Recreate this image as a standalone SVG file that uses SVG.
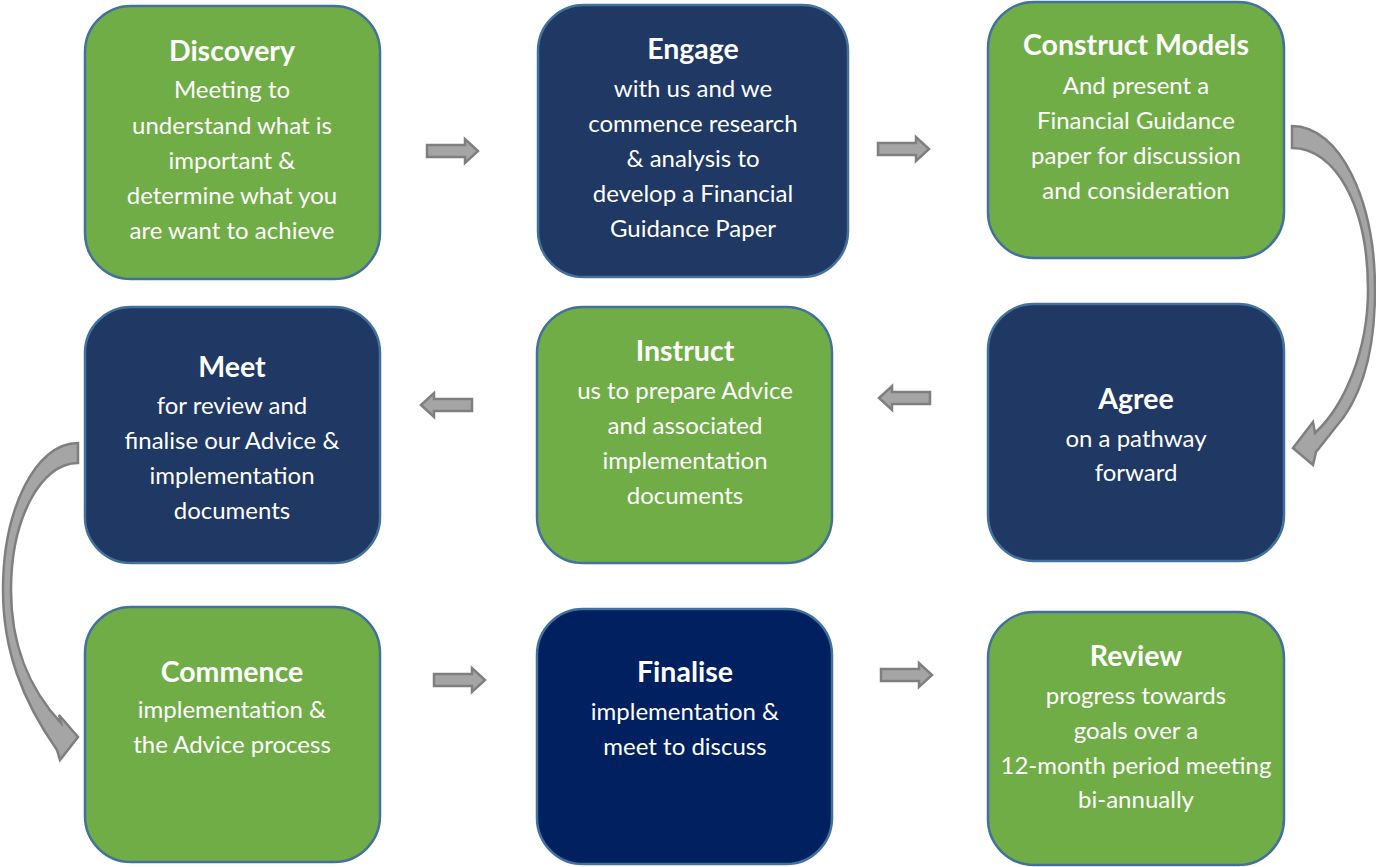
<svg xmlns="http://www.w3.org/2000/svg" width="1376" height="867" viewBox="0 0 1376 867">
<style>
.box{stroke:#41719C;stroke-width:2.5}
.g{fill:#70AD47}
.n{fill:#1F3864}
.d{fill:#002060}
text{font-family:Lato,"Liberation Sans",sans-serif;fill:#fff;text-anchor:middle}
.t{font-size:28.5px;font-weight:bold}
.b{font-size:24px}
.arr{fill:#A5A5A5;stroke:#7F7F7F;stroke-width:2.5;stroke-linejoin:miter}
</style>
<defs>
<path id="ra" d="M0,-6 L38,-6 L38,-12 L51,0 L38,12 L38,6 L0,6 Z"/>
<path id="la" d="M51,-6 L13,-6 L13,-12 L0,0 L13,12 L13,6 L51,6 Z"/>
</defs>
<rect width="1376" height="867" fill="#fff"/>
<g id="discovery">
<rect class="box g" x="85" y="6" width="295" height="273" rx="46"/>
<text class="t" x="232" y="61">Discovery</text>
<text class="b" x="232" y="98">Meeting to</text>
<text class="b" x="232" y="134">understand what is</text>
<text class="b" x="232" y="169">important &amp;</text>
<text class="b" x="232" y="204">determine what you</text>
<text class="b" x="232" y="239">are want to achieve</text>
</g>
<g id="engage">
<rect class="box n" x="538" y="5" width="310" height="272" rx="46"/>
<text class="t" x="693" y="59">Engage</text>
<text class="b" x="693" y="97">with us and we</text>
<text class="b" x="693" y="132">commence research</text>
<text class="b" x="693" y="167">&amp; analysis to</text>
<text class="b" x="693" y="202">develop a Financial</text>
<text class="b" x="693" y="237">Guidance Paper</text>
</g>
<g id="construct">
<rect class="box g" x="988" y="2" width="296" height="256" rx="46"/>
<text class="t" x="1136" y="55">Construct Models</text>
<text class="b" x="1136" y="94">And present a</text>
<text class="b" x="1136" y="129">Financial Guidance</text>
<text class="b" x="1136" y="164">paper for discussion</text>
<text class="b" x="1136" y="199">and consideration</text>
</g>
<g id="meet">
<rect class="box n" x="85" y="307" width="295" height="256" rx="46"/>
<text class="t" x="232" y="377">Meet</text>
<text class="b" x="232" y="414">for review and</text>
<text class="b" x="232" y="449">finalise our Advice &amp;</text>
<text class="b" x="232" y="484">implementation</text>
<text class="b" x="232" y="519">documents</text>
</g>
<g id="instruct">
<rect class="box g" x="537" y="307" width="295" height="256" rx="46"/>
<text class="t" x="685" y="361">Instruct</text>
<text class="b" x="685" y="399">us to prepare Advice</text>
<text class="b" x="685" y="434">and associated</text>
<text class="b" x="685" y="469">implementation</text>
<text class="b" x="685" y="504">documents</text>
</g>
<g id="agree">
<rect class="box n" x="988" y="304" width="296" height="257" rx="46"/>
<text class="t" x="1136" y="409">Agree</text>
<text class="b" x="1136" y="447">on a pathway</text>
<text class="b" x="1136" y="481">forward</text>
</g>
<g id="commence">
<rect class="box g" x="85" y="607" width="295" height="255" rx="46"/>
<text class="t" x="232" y="682">Commence</text>
<text class="b" x="232" y="718">implementation &amp;</text>
<text class="b" x="232" y="753">the Advice process</text>
</g>
<g id="finalise">
<rect class="box d" x="537" y="609" width="295" height="255" rx="46"/>
<text class="t" x="685" y="682">Finalise</text>
<text class="b" x="685" y="720">implementation &amp;</text>
<text class="b" x="685" y="755">meet to discuss</text>
</g>
<g id="review">
<rect class="box g" x="988" y="612" width="296" height="253" rx="46"/>
<text class="t" x="1136" y="666">Review</text>
<text class="b" x="1136" y="704">progress towards</text>
<text class="b" x="1136" y="739">goals over a</text>
<text class="b" x="1136" y="774">12-month period meeting</text>
<text class="b" x="1136" y="808">bi-annually</text>
</g>
<g id="connectors">
<use href="#ra" class="arr" x="427" y="151"/>
<use href="#ra" class="arr" x="878" y="149"/>
<use href="#la" class="arr" x="879" y="398"/>
<use href="#la" class="arr" x="421" y="405"/>
<use href="#ra" class="arr" x="434" y="680"/>
<use href="#ra" class="arr" x="881" y="675"/>
<path class="arr" d="M1292,126 C1340,126 1375,200 1375,290 C1375,355 1360,400 1335,428 L1316,452 L1313,465 L1293,448 L1313,422 L1315,433 C1345,405 1368,350 1368,290 C1368,205 1335,148 1292,148 Z"/>
<path class="arr" d="M78,443 C35,443 3,510 3,590 C3,650 22,700 57,750 L60,760 L78,737 L59,715 L61,723 C30,690 11,645 11,590 C11,520 40,463 78,463 Z"/>
</g>
</svg>
